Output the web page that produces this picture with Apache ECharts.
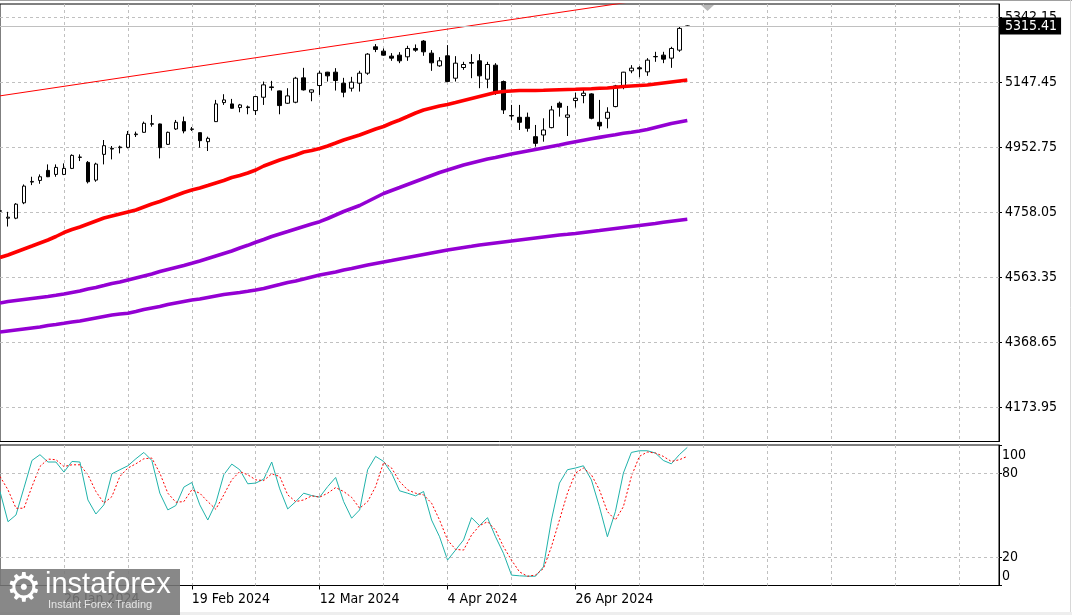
<!DOCTYPE html>
<html>
<head>
<meta charset="utf-8">
<script src="https://cdn.jsdelivr.net/npm/echarts@6/dist/echarts.min.js"></script>
<style>
html,body{margin:0;padding:0;background:#fff;}
#chart{width:1072px;height:615px;}
</style>
</head>
<body>
<div id="chart"></div>
<script>
// ---------- DATA ----------
const dates = [
'16 Jan 2024','17 Jan 2024','18 Jan 2024','19 Jan 2024','22 Jan 2024','23 Jan 2024','24 Jan 2024','25 Jan 2024','26 Jan 2024','29 Jan 2024',
'30 Jan 2024','31 Jan 2024','1 Feb 2024','2 Feb 2024','5 Feb 2024','6 Feb 2024','7 Feb 2024','8 Feb 2024','9 Feb 2024','12 Feb 2024',
'13 Feb 2024','14 Feb 2024','15 Feb 2024','16 Feb 2024','19 Feb 2024','20 Feb 2024','21 Feb 2024','22 Feb 2024','23 Feb 2024','26 Feb 2024',
'27 Feb 2024','28 Feb 2024','29 Feb 2024','1 Mar 2024','4 Mar 2024','5 Mar 2024','6 Mar 2024','7 Mar 2024','8 Mar 2024','11 Mar 2024',
'12 Mar 2024','13 Mar 2024','14 Mar 2024','15 Mar 2024','18 Mar 2024','19 Mar 2024','20 Mar 2024','21 Mar 2024','22 Mar 2024','25 Mar 2024',
'26 Mar 2024','27 Mar 2024','28 Mar 2024','1 Apr 2024','2 Apr 2024','3 Apr 2024','4 Apr 2024','5 Apr 2024','8 Apr 2024','9 Apr 2024',
'10 Apr 2024','11 Apr 2024','12 Apr 2024','15 Apr 2024','16 Apr 2024','17 Apr 2024','18 Apr 2024','19 Apr 2024','22 Apr 2024','23 Apr 2024',
'24 Apr 2024','25 Apr 2024','26 Apr 2024','29 Apr 2024','30 Apr 2024','1 May 2024','2 May 2024','3 May 2024','6 May 2024','7 May 2024',
'8 May 2024','9 May 2024','10 May 2024','13 May 2024','14 May 2024','15 May 2024','16 May 2024'
];
const xLabelDates = ['26 Jan 2024','19 Feb 2024','12 Mar 2024','4 Apr 2024','26 Apr 2024'];

const opens = [
4762,4740,4740,4786,4848,4853,4883,4871,4871,4889,
4922,4907,4854,4931,4947,4951,4952,4990,4997,5021,
5022,4961,5007,5029,5007,4996,4969,5029,5086,5082,
5071,5073,5062,5102,5133,5121,5084,5087,5160,5117,
5137,5177,5177,5144,5129,5144,5174,5253,5240,5225,
5228,5223,5248,5270,5234,5196,5226,5159,5191,5206,
5211,5156,5198,5149,5047,5042,5042,4984,4989,5011,
5084,5042,5092,5107,5112,5027,5039,5074,5136,5181,
5190,5178,5224,5228,5219,5243,5314];
const closes = [
4761,4743,4782,4836,4850,4864,4864,4892,4889,4928,
4923,4849,4902,4957,4949,4953,4991,4992,5024,5023,
4951,4997,5027,5001,5006,4972,4979,5082,5094,5069,
5079,5071,5104,5139,5131,5077,5106,5159,5124,5124,
5174,5166,5152,5117,5147,5174,5231,5245,5228,5219,
5211,5248,5243,5238,5205,5211,5149,5204,5200,5204,
5166,5200,5114,5064,5046,5027,5009,4964,5004,5064,
5072,5049,5099,5114,5039,5016,5057,5136,5177,5189,
5187,5213,5223,5216,5248,5308,5315.41];
const lows = [
4758,4715,4737,4782,4839,4843,4863,4864,4869,4887,
4911,4844,4849,4901,4916,4934,4949,4983,4996,5014,
4919,4959,5004,4994,5001,4951,4941,5028,5079,5068,
5057,5051,5049,5079,5122,5051,5082,5084,5122,5090,
5109,5149,5122,5102,5119,5119,5169,5237,5226,5211,
5204,5211,5238,5226,5181,5193,5147,5149,5184,5159,
5129,5129,5109,5052,5034,5004,4999,4954,4969,5009,
5044,4986,5071,5084,5036,5004,5009,5072,5126,5174,
5162,5166,5208,5204,5190,5238,5313];
const highs = [
4765,4759,4785,4841,4864,4871,4901,4901,4904,4931,
4931,4911,4906,4974,4956,4957,5001,4999,5029,5049,
5023,4999,5034,5044,5013,4996,4984,5094,5111,5097,
5082,5077,5106,5149,5151,5122,5129,5163,5190,5125,
5181,5178,5189,5160,5163,5181,5234,5261,5248,5234,
5237,5256,5260,5273,5243,5222,5258,5225,5208,5231,
5231,5208,5204,5152,5079,5079,5056,5019,5039,5076,
5089,5076,5116,5124,5114,5094,5072,5139,5178,5198,
5195,5219,5238,5238,5253,5313,5317];

const maRed = [
4622.3,4629.8,4638.8,4647.8,4656.7,4665.7,4674.7,4685.2,4697.1,4706.1,
4713.6,4722.6,4731.6,4740.5,4746.5,4752.5,4758.5,4764.5,4773.5,4782.4,
4789.9,4798.9,4807.9,4816.9,4824.4,4830.4,4837.8,4845.3,4852.8,4861.8,
4867.8,4875.2,4884.2,4896.2,4905.2,4914.1,4921.6,4929.1,4938.1,4942.6,
4948.6,4956.1,4965.0,4974.0,4981.5,4989.0,4998.0,5006.9,5014.4,5024.9,
5033.9,5044.3,5054.8,5063.8,5069.8,5075.8,5080.3,5086.2,5092.2,5098.2,
5104.2,5110.2,5116.2,5119.2,5120.7,5122.2,5122.2,5122.2,5122.8,5123.7,
5124.6,5125.2,5125.8,5126.7,5127.6,5128.7,5129.6,5131.7,5134.1,5135.6,
5137.1,5138.6,5141.6,5144.6,5147.6,5150.6,5153.6];
const maPurpleFast = [
4486.1,4490.6,4493.6,4496.6,4499.6,4502.6,4505.6,4509.2,4513.1,4517.6,
4522.1,4528.1,4532.6,4538.5,4544.5,4549.0,4555.0,4561.0,4567.0,4573.0,
4580.4,4586.4,4592.4,4598.4,4605.0,4611.8,4619.3,4626.8,4634.3,4641.8,
4650.8,4658.8,4667.8,4676.2,4685.2,4692.7,4700.1,4707.6,4715.1,4722.6,
4729.5,4739.0,4749.5,4760.0,4769.0,4778.0,4789.9,4801.9,4813.9,4822.9,
4831.8,4840.8,4849.8,4858.8,4867.8,4876.7,4884.2,4891.7,4899.2,4905.2,
4911.2,4917.1,4921.6,4927.0,4932.1,4936.6,4941.1,4945.6,4950.1,4954.6,
4959.1,4964.1,4968.9,4973.4,4977.6,4981.8,4986.0,4989.9,4994.1,4997.4,
5001.0,5005.4,5011.4,5017.4,5023.4,5027.9,5032.4];
const maPurpleSlow = [
4399.3,4402.3,4405.3,4408.3,4411.3,4414.3,4418.8,4421.8,4425.4,4429.3,
4432.3,4436.8,4441.3,4445.8,4450.2,4453.2,4455.3,4460.7,4466.7,4471.2,
4475.7,4481.6,4486.1,4490.6,4495.1,4498.1,4502.6,4507.1,4511.6,4514.6,
4517.6,4521.2,4525.1,4529.6,4535.6,4541.5,4547.5,4552.0,4558.0,4564.0,
4570.0,4574.5,4579.0,4584.9,4589.4,4594.8,4599.9,4604.4,4608.9,4613.3,
4617.8,4622.3,4626.8,4631.3,4635.8,4640.3,4644.8,4648.7,4652.3,4655.9,
4659.7,4662.7,4665.7,4668.7,4671.7,4674.7,4677.7,4680.7,4683.7,4686.7,
4689.7,4691.8,4694.2,4697.2,4700.2,4703.1,4706.1,4709.1,4712.1,4715.1,
4718.1,4721.1,4724.1,4727.7,4731.0,4734.0,4737.0];

const stochK = [
66.9,45.4,50.2,69.5,89.0,93.1,87.9,87.9,80.7,88.3,
87.9,60.9,50.9,57.4,79.5,82.4,85.2,90.2,94.7,89.0,
65.7,53.8,56.9,70.0,73.3,57.4,46.6,58.6,78.8,86.4,
82.4,72.4,72.9,75.7,87.9,68.8,54.5,59.7,65.7,64.0,
62.9,70.4,76.9,59.7,47.9,53.8,82.4,91.9,88.3,80.0,
67.4,65.7,63.8,66.9,46.6,34.7,18.1,25.2,32.4,48.3,
42.6,48.3,34.7,22.9,7.4,6.9,6.6,6.6,13.3,46.6,
72.9,82.4,83.6,85.2,75.2,56.1,34.7,52.6,80.0,94.7,
95.9,95.9,94.3,89.0,86.6,93.1,98.3];
const stochD = [
77.6,68.1,55.0,55.0,70.4,84.7,90.0,89.5,84.7,85.9,
85.9,78.8,66.9,58.6,63.3,77.6,83.6,86.6,90.2,90.7,
80.0,65.7,59.3,59.7,68.1,65.7,59.7,54.3,64.5,75.2,
81.1,78.8,75.2,74.7,79.5,77.6,64.5,59.7,60.9,63.8,
62.9,65.7,69.7,66.9,62.7,55.0,59.7,70.4,87.6,83.6,
74.0,68.1,65.7,64.5,58.6,46.6,32.4,25.7,25.2,35.9,
42.6,45.4,39.5,27.6,18.1,9.7,6.6,7.4,12.1,27.6,
46.6,65.7,80.0,83.6,78.8,68.1,52.6,46.6,56.1,77.6,
91.9,95.0,94.3,91.9,88.3,89.5,91.9];
const stochLevels = [20, 80];
const stochTicks = [0, 20, 80, 100];

const priceTicks = [4173.95, 4368.65, 4563.35, 4758.05, 4952.75, 5147.45, 5342.15];
const currentPrice = 5315.41;
// trend line (two anchor points: bar index, price)
const trendStart = [0, 5106.1];
const trendEnd = [86, 5412.9];

// ---------- BUILD ----------
const FUTURE_SLOTS = 39;
const categories = dates.concat(Array.from({length: FUTURE_SLOTS}, (_, i) => '+' + (i + 1)));
const candleData = opens.map((o, i) => [o, closes[i], lows[i], highs[i]]);
const trendData = dates.map((d, i) => i === trendStart[0] ? trendStart[1] : (i === trendEnd[0] ? trendEnd[1] : null));

const FONT = '"DejaVu Sans Condensed", "DejaVu Sans", sans-serif';
const gridDash = {color: '#c0c0c0', type: [3, 3], width: 1};
const gridEvery = (idx) => idx > 0 && idx % 8 === 0;
const labelSet = new Set(xLabelDates);
const labelEvery = (idx, val) => labelSet.has(val);

const chart = echarts.init(document.getElementById('chart'), null, {renderer: 'canvas'});
chart.setOption({
  animation: false,
  backgroundColor: '#ffffff',
  grid: [
    {left: -1, top: 4, width: 1000, height: 437.5, show: true, borderColor: '#000', borderWidth: 1, backgroundColor: '#fff'},
    {left: -1, top: 445, width: 1000, height: 140.5, show: true, borderColor: '#000', borderWidth: 1, backgroundColor: '#fff'}
  ],
  xAxis: [
    {type: 'category', gridIndex: 0, data: categories, boundaryGap: false,
     axisLine: {show: false}, axisTick: {show: false}, axisLabel: {show: false},
     splitLine: {show: true, interval: gridEvery, lineStyle: gridDash}},
    {type: 'category', gridIndex: 1, data: categories, boundaryGap: false,
     axisLine: {show: false},
     axisTick: {show: true, interval: labelEvery, length: 4, lineStyle: {color: '#000'}},
     axisLabel: {show: true, interval: labelEvery, align: 'left', margin: 7, hideOverlap: false,
                 fontFamily: FONT, fontSize: 14, color: '#000'},
     splitLine: {show: true, interval: gridEvery, lineStyle: gridDash}}
  ],
  yAxis: [
    {type: 'value', gridIndex: 0, position: 'right', min: 4071.6, max: 5381.06, scale: true,
     axisLine: {show: true, lineStyle: {color: '#000'}},
     axisTick: {show: true, customValues: priceTicks, length: 3, lineStyle: {color: '#000'}},
     axisLabel: {show: true, customValues: priceTicks, formatter: v => v.toFixed(2), margin: 6,
                 fontFamily: FONT, fontSize: 14, color: '#000'},
     splitLine: {show: true, lineStyle: gridDash}},
    {type: 'value', gridIndex: 1, position: 'right', min: 0, max: 100,
     axisLine: {show: true, lineStyle: {color: '#000'}},
     axisTick: {show: true, customValues: stochTicks, length: 3, lineStyle: {color: '#000'}},
     axisLabel: {show: true, customValues: stochTicks, margin: 3,
       formatter: v => v === 100 ? '{t|100}' : (v === 0 ? '{b|0}' : '{m|' + v + '}'),
       rich: {
         t: {padding: [20, 0, 0, 0], fontFamily: FONT, fontSize: 14, color: '#000'},
         b: {padding: [0, 0, 18, 0], fontFamily: FONT, fontSize: 14, color: '#000'},
         m: {fontFamily: FONT, fontSize: 14, color: '#000'}
       }},
     splitLine: {show: false}}
  ],
  series: [
    {name: 'Price', type: 'candlestick', xAxisIndex: 0, yAxisIndex: 0, data: candleData, barWidth: 4,
     itemStyle: {color: '#ffffff', color0: '#000000', borderColor: '#000000', borderColor0: '#000000', borderWidth: 1},
     markLine: {silent: true, symbol: 'none', animation: false,
       lineStyle: {color: '#c0c0c0', type: 'solid', width: 1},
       label: {show: true, position: 'end', distance: 1, formatter: () => currentPrice.toFixed(2),
               color: '#fff', backgroundColor: '#000', padding: [2, 4, 1, 5], fontFamily: FONT, fontSize: 14},
       data: [{yAxis: currentPrice}]}},
    {name: 'MA slow', type: 'line', xAxisIndex: 0, yAxisIndex: 0, data: maPurpleSlow, symbol: 'none',
     lineStyle: {color: '#9400d3', width: 3.6}},
    {name: 'MA mid', type: 'line', xAxisIndex: 0, yAxisIndex: 0, data: maPurpleFast, symbol: 'none',
     lineStyle: {color: '#9400d3', width: 3.6}},
    {name: 'MA fast', type: 'line', xAxisIndex: 0, yAxisIndex: 0, data: maRed, symbol: 'none',
     lineStyle: {color: '#ff0000', width: 3.6}},
    {name: 'Trend', type: 'line', xAxisIndex: 0, yAxisIndex: 0, data: trendData, connectNulls: true, symbol: 'none',
     clip: true, lineStyle: {color: '#ff0000', width: 1}},
    {name: '%K', type: 'line', xAxisIndex: 1, yAxisIndex: 1, data: stochK, symbol: 'none',
     lineStyle: {color: '#20b2aa', width: 1},
     markLine: {silent: true, symbol: 'none', animation: false, label: {show: false},
       lineStyle: gridDash, data: stochLevels.map(v => ({yAxis: v}))}},
    {name: '%D', type: 'line', xAxisIndex: 1, yAxisIndex: 1, data: stochD, symbol: 'none',
     lineStyle: {color: '#ff0000', width: 1, type: [2, 2]}}
  ],
  graphic: [
    {type: 'line', z: 100, shape: {x1: 0, y1: 0.5, x2: 1072, y2: 0.5}, style: {stroke: '#a0a0a0', lineWidth: 1}},
    {type: 'line', z: 100, shape: {x1: 1070.5, y1: 0, x2: 1070.5, y2: 615}, style: {stroke: '#d8d8d8', lineWidth: 1}},
    {type: 'rect', z: 100, shape: {x: 0, y: 612, width: 1072, height: 3}, style: {fill: '#eeeeee'}},
    {type: 'polygon', z: 100, shape: {points: [[701, 5], [714, 5], [707.5, 11]]}, style: {fill: '#b8b8b8'}},
    {type: 'rect', z: 200, zlevel: 1, shape: {x: 0, y: 569, width: 180, height: 46}, style: {fill: 'rgba(120,120,120,0.88)'}},
    {type: 'text', z: 201, zlevel: 1, x: 6, y: 571, style: {text: '\u2699', fill: '#ffffff', font: '40px "DejaVu Sans"'}},
    {type: 'text', z: 201, zlevel: 1, x: 45, y: 570, style: {text: 'instaforex', fill: '#ffffff', font: '29px "Liberation Sans"'}},
    {type: 'text', z: 201, zlevel: 1, x: 48, y: 599, style: {text: 'Instant Forex Trading', fill: '#e6e6e6', font: '11px "Liberation Sans"'}}
  ]
});
</script>
</body>
</html>
